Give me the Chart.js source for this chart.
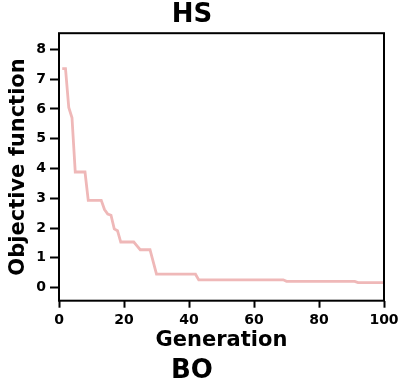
<!DOCTYPE html>
<html>
<head>
<meta charset="utf-8">
<script src="https://cdn.jsdelivr.net/npm/chart.js@4/dist/chart.umd.min.js"></script>
<style>
  html, body { margin: 0; padding: 0; background: #fff; }
  #c { display: block; }
</style>
</head>
<body>
<canvas id="c" width="401" height="385"></canvas>
<script>
// ---- data ----
const generations = [
  1,2,3,4,5,6,7,8,9,10,11,12,13,14,15,16,17,18,19,20,
  21,22,23,24,25,26,27,28,29,30,31,32,33,34,35,36,37,38,39,40,
  41,42,43,44,45,46,47,48,49,50,51,52,53,54,55,56,57,58,59,60,
  61,62,63,64,65,66,67,68,69,70,71,72,73,74,75,76,77,78,79,80,
  81,82,83,84,85,86,87,88,89,90,91,92,93,94,95,96,97,98,99,100
];
const objective = [
  7.35,7.35,6.05,5.70,3.88,3.88,3.88,3.88,2.93,2.93,2.93,2.93,2.93,2.62,2.47,2.43,1.97,1.91,1.53,1.53,
  1.53,1.53,1.53,1.40,1.27,1.27,1.27,1.27,0.86,0.45,0.45,0.45,0.45,0.45,0.45,0.45,0.45,0.45,0.45,0.45,
  0.45,0.45,0.26,0.26,0.26,0.26,0.26,0.26,0.26,0.26,0.26,0.26,0.26,0.26,0.26,0.26,0.26,0.26,0.26,0.26,
  0.26,0.26,0.26,0.26,0.26,0.26,0.26,0.26,0.26,0.21,0.21,0.21,0.21,0.21,0.21,0.21,0.21,0.21,0.21,0.21,
  0.21,0.21,0.21,0.21,0.21,0.21,0.21,0.21,0.21,0.21,0.21,0.17,0.17,0.17,0.17,0.17,0.17,0.17,0.17,0.17
];
const xTicks = [0, 20, 40, 60, 80, 100];
const yTicks = [0, 1, 2, 3, 4, 5, 6, 7, 8];
const titleText = "HS";
const subtitleText = "BO";
const xLabel = "Generation";
const yLabel = "Objective function";

const FONT = "'DejaVu Sans', sans-serif";
const points = generations.map((g, i) => ({ x: g, y: objective[i] }));

const framePlugin = {
  id: 'frame',
  afterDraw(chart) {
    const a = chart.chartArea, ctx = chart.ctx;
    ctx.save();
    ctx.strokeStyle = '#000';
    ctx.lineWidth = 2;
    ctx.strokeRect(a.left, a.top, a.right - a.left, a.bottom - a.top);
    ctx.restore();
  }
};

new Chart(document.getElementById('c'), {
  type: 'line',
  data: {
    datasets: [{
      data: points,
      borderColor: '#efb8b8',
      borderWidth: 2.8,
      pointRadius: 0,
      fill: false,
      tension: 0
    }]
  },
  options: {
    responsive: false,
    animation: false,
    devicePixelRatio: 1,
    layout: { padding: { left: 0, right: 17, top: 0, bottom: 0 } },
    plugins: {
      legend: { display: false },
      tooltip: { enabled: false },
      title: {
        display: true, text: titleText, color: '#000',
        font: { family: FONT, size: 26, weight: 'bold' },
        padding: { top: 0, bottom: 2 }
      },
      subtitle: {
        display: true, text: subtitleText, position: 'bottom', color: '#000',
        font: { family: FONT, size: 26, weight: 'bold', lineHeight: 1.05 },
        padding: { top: 0, bottom: 0 }
      }
    },
    scales: {
      x: {
        type: 'linear', min: 0, max: 100,
        afterBuildTicks: s => { s.ticks = xTicks.map(v => ({ value: v })); },
        afterFit: s => { s.paddingLeft = 0; s.paddingRight = 0; },
        grid: { display: true, drawOnChartArea: false, drawTicks: true, tickLength: 7, tickWidth: 2, tickColor: '#000' },
        border: { display: false },
        ticks: { color: '#000', font: { family: FONT, size: 14, weight: 'bold' }, padding: 4.5, maxRotation: 0 },
        title: { display: true, text: xLabel, color: '#000', font: { family: FONT, size: 21, weight: 'bold' }, padding: { top: -6, bottom: 5 } }
      },
      y: {
        type: 'linear', min: -0.44, max: 8.54,
        afterBuildTicks: s => { s.ticks = yTicks.map(v => ({ value: v })); },
        afterFit: s => { s.width = 59; s.paddingTop = 0; s.paddingBottom = 0; },
        grid: { display: true, drawOnChartArea: false, drawTicks: true, tickLength: 9, tickWidth: 2, tickColor: '#000' },
        border: { display: false },
        ticks: { color: '#000', font: { family: FONT, size: 14, weight: 'bold' }, padding: 4 },
        title: { display: true, text: yLabel, color: '#000', font: { family: FONT, size: 21, weight: 'bold' }, padding: { top: 6, bottom: 0 } }
      }
    }
  },
  plugins: [framePlugin]
});
</script>
</body>
</html>
